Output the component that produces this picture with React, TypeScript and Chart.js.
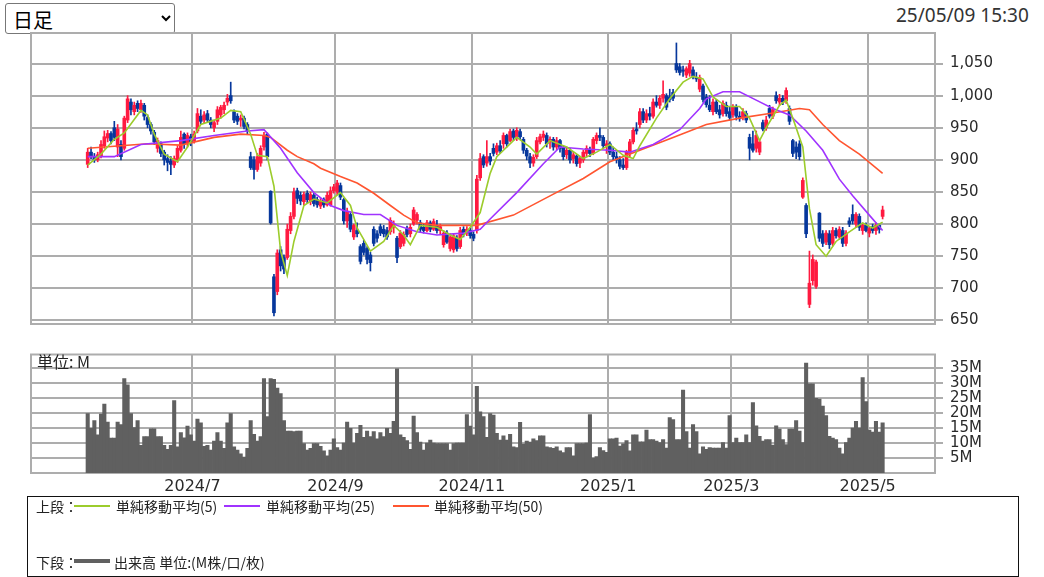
import React, { useEffect, useRef } from 'react';
import { Chart, registerables } from 'chart.js';

Chart.register(...registerables);

const opens = [893,912,905,900,906,922,934,941,950,920,924,918,962,990,975,988,978,985,966,955,943,918,925,912,902,898,892,900,915,940,926,936,930,945,968,962,972,962,950,960,970,978,990,1000,975,968,962,965,955,905,900,885,895,920,940,851,718,695,760,748,748,790,812,852,845,835,848,835,845,838,828,838,830,830,852,850,860,838,805,815,780,790,765,770,762,752,792,785,796,792,790,788,795,778,765,770,793,785,800,806,802,795,790,802,792,798,790,768,786,762,760,778,765,792,786,790,784,790,872,905,895,905,918,912,922,925,938,930,945,935,944,932,915,905,895,905,928,935,938,928,932,920,930,918,908,915,902,906,895,900,910,915,910,930,938,935,922,925,912,905,900,892,888,910,928,948,955,975,962,972,968,990,985,996,1000,998,1005,1050,1045,1040,1032,1035,1040,1028,1010,1015,998,985,975,990,978,972,985,975,970,982,968,966,972,935,925,918,912,958,950,980,968,1000,990,996,992,980,930,920,925,842,829,675,712,703,817,785,772,785,770,790,780,790,770,805,815,800,812,790,798,786,796,790,798,812];
const highs = [918,920,910,912,930,945,946,944,960,955,930,968,1000,995,990,992,993,988,970,958,946,934,928,915,908,905,906,922,945,942,942,940,945,980,978,975,977,966,962,983,985,990,1002,1021,978,972,970,968,958,912,905,910,922,943,942,852,722,760,765,752,800,818,856,856,850,850,852,850,848,842,840,841,850,858,862,868,864,840,825,818,800,802,768,775,765,756,796,790,800,798,795,810,805,781,790,788,797,800,826,818,806,800,806,805,808,806,800,790,790,785,785,782,795,796,796,794,788,876,910,908,930,910,925,926,930,942,940,948,948,950,948,935,918,910,908,935,940,945,942,936,935,935,932,922,920,918,912,908,905,915,922,920,935,942,950,938,930,928,920,912,905,902,915,932,950,958,980,980,978,982,995,1000,1000,1023,1003,1010,1010,1082,1050,1046,1045,1055,1045,1036,1032,1018,1002,1000,995,994,985,992,990,982,986,986,975,980,976,940,945,945,932,962,968,985,982,1006,1002,1000,1012,984,932,928,930,872,832,758,752,744,818,790,790,790,795,794,796,795,790,810,830,818,816,800,802,795,800,802,800,828];
const lows = [888,902,896,897,903,918,928,925,930,905,900,915,958,970,970,975,974,962,950,940,924,912,905,892,883,877,888,896,912,918,920,922,926,942,955,958,958,950,944,955,965,972,985,988,958,955,952,948,940,885,870,882,890,915,900,800,657,690,727,723,745,785,808,832,830,830,832,830,828,826,824,826,828,828,848,846,838,800,795,788,776,780,738,752,738,727,766,772,782,780,776,784,786,740,762,766,780,780,798,800,788,786,788,788,790,786,784,764,770,758,756,758,762,780,782,778,774,786,868,888,890,892,906,908,910,918,920,928,930,930,932,910,900,888,890,902,925,930,920,918,915,916,912,900,902,895,895,890,888,896,905,905,908,925,930,918,910,908,900,895,886,885,885,905,925,940,950,958,958,962,965,982,980,990,978,990,992,1036,1032,1030,1028,1030,1026,1022,1006,990,982,975,970,972,965,968,968,962,966,962,960,962,958,900,912,912,908,945,946,965,964,988,985,986,988,955,905,902,900,840,779,670,705,700,773,765,768,762,766,778,776,765,766,796,800,795,790,784,788,780,786,784,786,808];
const closes = [912,905,900,908,924,936,941,930,935,948,905,965,995,978,985,980,988,968,955,945,928,930,910,900,896,893,902,918,935,925,938,928,940,972,960,970,962,955,958,978,982,985,996,992,962,960,965,952,945,888,885,905,918,938,905,802,662,755,735,730,792,812,850,840,836,846,838,846,832,830,836,830,845,852,858,864,842,805,820,792,798,785,742,756,745,740,770,778,786,785,780,806,800,748,786,784,784,795,822,815,792,790,802,792,804,790,796,786,772,780,782,762,790,784,792,782,778,870,902,892,905,898,910,922,914,938,925,944,935,946,936,915,906,895,904,930,936,940,925,932,920,930,918,905,915,900,908,894,902,912,918,910,932,938,935,922,925,912,905,900,890,888,912,928,946,945,975,962,972,968,990,985,996,1002,982,994,996,1040,1036,1038,1042,1050,1030,1026,1028,994,986,978,990,975,970,988,972,966,982,968,964,975,962,918,915,938,928,948,962,968,978,992,996,990,1008,960,910,912,905,868,785,708,745,741,778,770,786,768,790,782,792,770,786,800,805,815,795,798,790,793,790,798,792,822];
const volumes = [19.8,14.9,17.5,12.7,19.6,23.0,17.0,11.6,11.6,17.0,16.1,31.5,29.4,19.8,15.1,17.5,9.2,12.1,12.1,14.7,14.7,12.1,12.1,9.2,7.9,9.2,24.1,8.7,13.5,11.7,15.6,12.7,10.6,18.0,16.7,8.9,9.2,7.6,10.6,13.5,10.6,8.2,16.7,19.8,8.7,7.6,6.4,5.3,8.2,17.5,12.9,10.6,12.1,31.5,18.8,31.5,31.2,28.3,26.5,17.5,14.0,14.0,13.8,14.0,14.0,9.8,7.6,8.2,9.8,9.8,8.9,7.4,5.7,7.6,11.4,8.5,7.6,10.0,17.0,14.9,10.0,13.2,15.9,11.9,14.0,12.1,13.8,11.4,13.5,12.1,14.9,13.2,17.2,34.7,12.7,11.9,10.8,7.9,19.0,13.5,10.3,7.6,10.0,11.0,10.0,9.8,9.8,9.8,9.8,7.6,9.8,10.0,10.0,10.0,19.5,15.6,12.7,28.9,20.4,18.8,11.9,19.8,19.3,13.2,11.0,12.4,11.0,12.9,8.7,8.5,16.9,9.6,10.6,10.3,11.4,10.8,12.4,12.4,8.7,8.5,8.2,8.7,7.4,6.8,8.5,8.5,5.7,9.8,9.8,9.8,10.0,19.5,5.0,5.5,8.5,7.5,6.9,11.4,11.4,11.6,9.0,9.7,10.8,7.4,12.7,12.7,10.4,10.4,14.3,11.1,11.1,10.6,10.1,11.1,8.3,18.5,17.8,11.1,11.1,27.6,13.8,8.3,16.1,13.8,6.4,8.7,7.9,8.5,8.3,8.3,8.3,10.1,8.3,19.1,10.1,11.6,10.1,10.1,12.7,10.1,23.5,15.7,12.2,10.6,11.1,11.1,9.3,15.7,14.6,11.1,9.5,14.6,14.6,17.5,14.0,10.1,36.6,29.7,29.7,24.9,24.6,22.3,19.1,12.2,11.6,11.1,8.3,6.4,10.1,11.6,15.0,17.2,15.0,31.8,23.8,14.3,13.6,17.2,13.6,16.7];

const ma5Idx = [0,4,8,11,16,18,20,23,27,30,34,40,43,46,49,51,54,56,58,60,62,65,68,72,76,79,81,85,89,92,95,97,100,105,109,112,115,118,121,123,129,133,135,139,144,149,153,157,161,164,166,171,175,179,182,185,188,192,196,199,202,204,208,210,212,214,215,217,219,222,225,229,233,236,239];
const ma5 = [892,909,932,942,977,970,940,909,897,920,955,965,977,975,940,907,905,859,758,720,773,829,839,833,849,829,794,758,773,798,783,768,798,795,783,776,795,818,879,905,935,920,909,930,920,902,912,924,907,902,922,965,995,1021,1030,1026,998,983,983,965,930,950,985,993,965,935,920,824,768,750,773,788,802,794,803];
const ma25Idx = [0,8,16,28,38,48,53,58,63,68,73,77,83,88,93,99,105,113,118,121,129,137,142,149,157,163,170,178,184,186,191,196,201,206,211,216,221,226,230,235,239];
const ma25 = [905,905,924,930,938,945,947,918,880,849,829,821,815,815,798,788,783,786,792,808,849,894,920,917,915,912,924,947,980,995,1006,1006,993,980,970,945,915,870,844,814,790];
const ma50Idx = [0,18,28,38,46,53,55,60,63,68,70,76,81,86,91,95,99,105,111,117,128,139,149,157,166,176,186,196,206,214,217,221,226,232,239];
const ma50 = [918,925,923,935,940,938,935,915,905,894,887,874,864,848,829,814,802,798,798,798,814,844,871,897,915,935,955,965,973,980,978,955,930,909,879];

// index of the first trading day of each labelled month
const monthIdx = [32, 75, 116, 157, 194, 235];
const monthLabels = ['2024/7', '2024/9', '2024/11', '2025/1', '2025/3', '2025/5'];
const priceTicks = [650, 700, 750, 800, 850, 900, 950, 1000, 1050];
const volumeTicks = [5, 10, 15, 20, 25, 30, 35];

const UP = '#ff1a40';
const DOWN = '#06379c';
const GRID = '#adadad';
const MA5C = '#9ccc2c';
const MA25C = '#a033ff';
const MA50C = '#ff5530';
const VOLC = '#606060';
const X_MIN = -17.05;
const X_MAX = 254.75;
const TICK_FONT = '"DejaVu Sans", sans-serif';
const CJK = '"Noto Sans CJK JP", "Noto Sans", sans-serif';

const monthGrid = () => monthIdx.map((v) => ({ value: v - 0.5 }));

const framePlugin = {
  id: 'frame',
  beforeDatasetsDraw(chart: any) {
    const { ctx, chartArea } = chart;
    ctx.save();
    ctx.strokeStyle = GRID;
    ctx.lineWidth = 2;
    ctx.strokeRect(chartArea.left, chartArea.top, chartArea.right - chartArea.left, chartArea.bottom - chartArea.top);
    ctx.restore();
  },
};

export default function App() {
  const priceRef = useRef<HTMLCanvasElement | null>(null);
  const volRef = useRef<HTMLCanvasElement | null>(null);

  useEffect(() => {
    const idx = closes.map((_, i) => i);
    const candleColors = idx.map((i) => (closes[i] >= opens[i] ? UP : DOWN));
    const line = (label: string, xs: number[], ys: number[], color: string) => ({
      type: 'line' as const,
      label,
      data: xs.map((x, k) => ({ x, y: ys[k] })),
      borderColor: color,
      backgroundColor: color,
      borderWidth: 1.6,
      pointRadius: 0,
      tension: 0,
      order: 0,
    });

    const price = new Chart(priceRef.current as HTMLCanvasElement, {
      type: 'bar',
      data: {
        datasets: [
          line('MA5', ma5Idx, ma5, MA5C),
          line('MA25', ma25Idx, ma25, MA25C),
          line('MA50', ma50Idx, ma50, MA50C),
          {
            type: 'bar',
            label: 'body',
            data: idx.map((i) => ({ x: i, y: [opens[i], closes[i]] })) as any,
            backgroundColor: candleColors,
            barThickness: 3,
            minBarLength: 1,
            grouped: false,
            order: 2,
          } as any,
          {
            type: 'bar',
            label: 'wick',
            data: idx.map((i) => ({ x: i, y: [lows[i], highs[i]] })) as any,
            backgroundColor: candleColors,
            barThickness: 1,
            grouped: false,
            order: 3,
          } as any,
        ],
      },
      options: {
        animation: false,
        responsive: false,
        maintainAspectRatio: false,
        layout: { padding: { left: 31, top: 33, right: 0, bottom: 8 } },
        plugins: { legend: { display: false }, tooltip: { enabled: false } },
        scales: {
          x: {
            type: 'linear',
            min: X_MIN,
            max: X_MAX,
            offset: false,
            afterBuildTicks: (ax: any) => {
              ax.ticks = monthGrid();
            },
            ticks: { display: false },
            grid: { color: GRID, lineWidth: 2, drawTicks: false, offset: false },
            border: { display: false },
            afterFit: (s: any) => {
              s.height = 0;
            },
          },
          y: {
            position: 'right',
            min: 644.5,
            max: 1097.5,
            afterBuildTicks: (ax: any) => {
              ax.ticks = priceTicks.map((v) => ({ value: v }));
            },
            ticks: {
              autoSkip: false,
              callback: (v: any) => Number(v).toLocaleString('en-US'),
              font: { family: TICK_FONT, size: 15 },
              color: '#2a2a2a',
              padding: 7,
            },
            grid: { color: GRID, lineWidth: 2, tickLength: 8 },
            border: { color: GRID, width: 2 },
            afterFit: (s: any) => {
              s.width = 109;
            },
          },
        },
      } as any,
      plugins: [framePlugin],
    });

    const vol = new Chart(volRef.current as HTMLCanvasElement, {
      type: 'bar',
      data: {
        datasets: [
          {
            label: 'volume',
            data: idx.map((i) => ({ x: i, y: volumes[i] })) as any,
            backgroundColor: VOLC,
            barThickness: 3.4,
            grouped: false,
          } as any,
        ],
      },
      options: {
        animation: false,
        responsive: false,
        maintainAspectRatio: false,
        layout: { padding: { left: 31, top: 9, right: 0, bottom: 0 } },
        plugins: { legend: { display: false }, tooltip: { enabled: false } },
        scales: {
          x: {
            type: 'linear',
            min: X_MIN,
            max: X_MAX,
            offset: false,
            afterBuildTicks: (ax: any) => {
              ax.ticks = monthGrid();
            },
            ticks: {
              autoSkip: false,
              maxRotation: 0,
              callback: (v: any) => {
                const k = monthIdx.indexOf(Number(v) + 0.5);
                return k >= 0 ? monthLabels[k] : '';
              },
              font: { family: TICK_FONT, size: 16 },
              color: '#2a2a2a',
              padding: 4,
            },
            grid: { color: GRID, lineWidth: 2, drawTicks: false, offset: false },
            border: { display: false },
            afterFit: (s: any) => {
              s.height = 24;
            },
          },
          y: {
            position: 'right',
            min: 0,
            max: 39.5,
            afterBuildTicks: (ax: any) => {
              ax.ticks = volumeTicks.map((v) => ({ value: v }));
            },
            ticks: {
              autoSkip: false,
              callback: (v: any) => `${v}M`,
              font: { family: TICK_FONT, size: 15, lineHeight: 1 },
              color: '#2a2a2a',
              padding: 7,
            },
            grid: { color: GRID, lineWidth: 2, tickLength: 8 },
            border: { color: GRID, width: 2 },
            afterFit: (s: any) => {
              s.width = 109;
            },
          },
        },
      } as any,
      plugins: [framePlugin],
    });

    return () => {
      price.destroy();
      vol.destroy();
    };
  }, []);

  const legendText: React.CSSProperties = {
    position: 'absolute',
    fontFamily: CJK,
    fontSize: 14,
    color: '#222',
    lineHeight: '16px',
    whiteSpace: 'nowrap',
  };
  const swatch = (left: number, top: number, color: string, h: number): React.CSSProperties => ({
    position: 'absolute',
    left,
    top,
    width: 36,
    height: h,
    background: color,
  });

  return (
    <div style={{ position: 'absolute', left: 0, top: 0, width: 1044, height: 577, overflow: 'hidden', background: '#fff' }}>
      <select
        defaultValue="day"
        style={{
          position: 'absolute',
          left: 5,
          top: 3,
          width: 170,
          height: 31,
          fontSize: 20,
          fontFamily: CJK,
          color: '#000',
          background: '#fff',
          border: '1px solid #777',
          borderRadius: 3,
          paddingLeft: 3,
        }}
      >
        <option value="day">日足</option>
      </select>
      <div style={{ position: 'absolute', left: 896, top: 2, fontFamily: '"Noto Sans", sans-serif', fontSize: 19, color: '#333', whiteSpace: 'nowrap' }}>
        25/05/09 15:30
      </div>
      <canvas ref={priceRef} width={1044} height={340} style={{ position: 'absolute', left: 0, top: 0 }} />
      <canvas ref={volRef} width={1044} height={157} style={{ position: 'absolute', left: 0, top: 340 }} />
      <div style={{ ...legendText, left: 37, top: 352, fontSize: 16, lineHeight: '18px' }}>単位: M</div>
      <div style={{ position: 'absolute', left: 27, top: 496, width: 992, height: 81, boxSizing: 'border-box', border: '1px solid #111' }}>
        <div style={{ ...legendText, left: 8, top: 1 }}>上段：</div>
        <div style={swatch(46, 8, MA5C, 2)} />
        <div style={{ ...legendText, left: 88, top: 1 }}>単純移動平均(5)</div>
        <div style={swatch(196, 8, MA25C, 2)} />
        <div style={{ ...legendText, left: 238, top: 1 }}>単純移動平均(25)</div>
        <div style={swatch(365, 8, MA50C, 2)} />
        <div style={{ ...legendText, left: 406, top: 1 }}>単純移動平均(50)</div>
        <div style={{ ...legendText, left: 8, top: 57 }}>下段：</div>
        <div style={swatch(46, 62, VOLC, 4)} />
        <div style={{ ...legendText, left: 86, top: 57 }}>出来高 単位:(M株/口/枚)</div>
      </div>
    </div>
  );
}
